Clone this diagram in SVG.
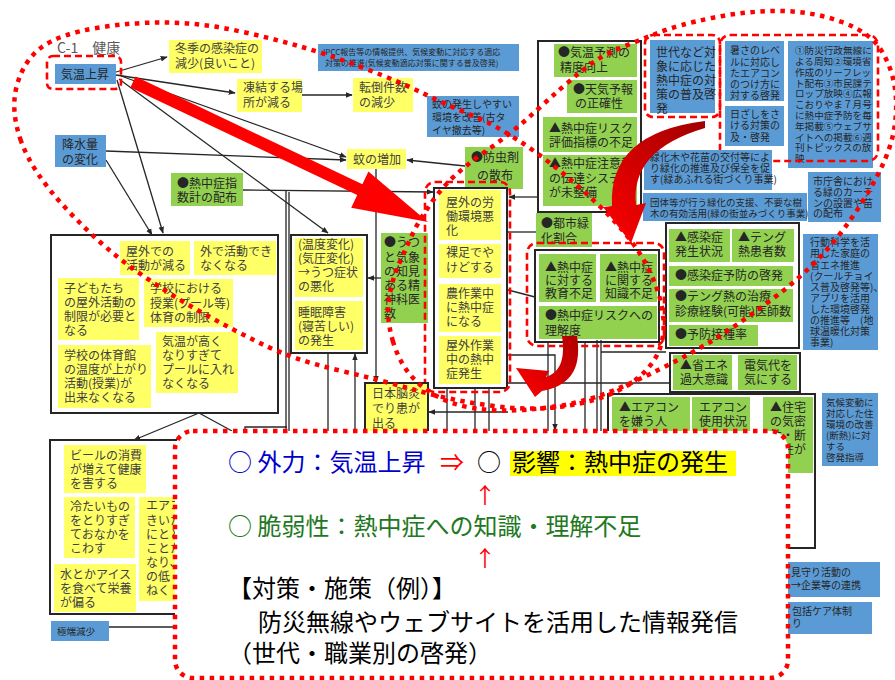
<svg xmlns="http://www.w3.org/2000/svg" width="895" height="680" viewBox="0 0 895 680">
<defs>
<style>
.t{font-family:"Noto Sans CJK JP","Noto Sans CJK SC",sans-serif;font-size:12px;fill:#3f3f3f}
.f10{font-size:10px}
.f9{font-size:9.5px}
.f8{font-size:8px}
.dk{fill:#262626}
.bl{fill:#5B9BD5}
.ye{fill:#FFFF66}
.gr{fill:#92D050}
.fr{fill:none;stroke:#262626;stroke-width:2}
.rda{fill:none;stroke:#FF0000;stroke-width:2.6;stroke-dasharray:7 4}
.rdo{fill:none;stroke:#FF0000;stroke-width:4.5;stroke-dasharray:4.5 5.5}
.ln{fill:none;stroke:#262626;stroke-width:1.3}
.ar{marker-end:url(#ah)}
.big{font-family:"Noto Sans CJK JP","Noto Sans CJK SC",sans-serif;font-size:24px}
</style>
<marker id="ah" viewBox="0 0 10 10" refX="9" refY="5" markerWidth="7" markerHeight="7" markerUnits="userSpaceOnUse" orient="auto"><path d="M0,1 L10,5 L0,9 z" fill="#262626"/></marker>
<linearGradient id="gB" x1="1" y1="0" x2="0" y2="1"><stop offset="0" stop-color="#A00000"/><stop offset="1" stop-color="#FF0000"/></linearGradient>
<linearGradient id="gC" x1="1" y1="0" x2="0" y2="1"><stop offset="0" stop-color="#B00000"/><stop offset="1" stop-color="#FF0000"/></linearGradient>
</defs>
<rect width="895" height="680" fill="#fff"/>

<g id="connectors">
<path class="ln ar" d="M116,72 L167,57"/>
<path class="ln ar" d="M116,75 L235,93"/>
<path class="ln ar" d="M301,95 L352,95"/>
<path class="ln ar" d="M117,80 L163,233"/>
<path class="ln ar" d="M106,160 L152,235"/>
<path class="ln ar" d="M119,79 L328,233"/>
<path class="ln ar" d="M121,76 L346,157"/>
<path class="ln ar" d="M106,151 L346,160"/>
<path class="ln ar" d="M465,166 L407,160"/>
<path class="ln ar" d="M376,169 L376,382"/>
<path class="ln ar" d="M243,190 L433,192"/>
<path class="ln" d="M286,190 L286,431 M289,192 L289,431"/>
<path class="ln ar" d="M381,278 L368,278"/>
<path class="ln ar" d="M355,431 L355,354"/>
<path class="ln" d="M328,353 L328,431"/>
<path class="ln ar" d="M538,197 L509,197"/>
<path class="ln" d="M536,232 L508,232"/>
<path class="ln" d="M535,297 L508,290"/>
<path class="ln ar" d="M508,412 L429,412"/>
<path class="ln ar" d="M508,355 L555,355 L555,430"/>
<path class="ln" d="M447,388 V431 M475,388 V431 M489,388 V431 M508,383 H670 M548,342 V431 M585,342 V431 M597,340 V431 M601,340 V431 M601,352 H666"/>
<path class="ln ar" d="M199,413 L134,440"/>
<path class="ln" d="M199,413 L232,431 M245,431 V427 H287"/>
<path class="ln" d="M109,627 H175"/>
</g>

<g id="title"><text class="t" x="57" y="53" style="font-size:14px;fill:#595959">C-1　健康</text></g>

<g id="n_kion"><rect class="bl" x="55" y="64" width="61" height="20"/><text class="t dk" x="61" y="79">気温上昇</text><rect class="rda" x="47" y="56" width="74" height="33" rx="6"/></g>
<g id="n_fuyu"><rect class="ye" x="169" y="40" width="93" height="33"/><text class="t"><tspan x="175" y="53">冬季の感染症の</tspan><tspan x="175" y="68">減少(良いこと)</tspan></text></g>
<g id="n_touketsu"><rect class="ye" x="237" y="79" width="65" height="33"/><text class="t"><tspan x="243" y="92">凍結する場</tspan><tspan x="243" y="107">所が減る</tspan></text></g>
<g id="n_tentou"><rect class="ye" x="353" y="78" width="60" height="34"/><text class="t"><tspan x="359" y="92">転倒件数</tspan><tspan x="359" y="107">の減少</tspan></text></g>
<g id="n_ipcc"><rect class="bl" x="318" y="44" width="201" height="27"/><text class="t f8 dk"><tspan x="323" y="55">IPCC報告等の情報提供、気候変動に対応する適応</tspan><tspan x="325" y="66">対策の推進(気候変動適応対策に関する普及啓発)</tspan></text></g>
<g id="n_kaenv"><rect class="bl" x="427" y="96" width="92" height="41"/><text class="t f10 dk"><tspan x="432" y="108">蚊の発生しやすい</tspan><tspan x="432" y="121">環境を改善(古タ</tspan><tspan x="432" y="134">イヤ撤去等)</tspan></text></g>
<g id="n_ka"><rect class="ye" x="347" y="149" width="59" height="20"/><text class="t" x="353" y="164">蚊の増加</text></g>
<g id="n_bochu"><rect class="gr" x="465" y="147" width="58" height="42"/><text class="t dk"><tspan x="471" y="162">●防虫剤</tspan><tspan x="477" y="180">の散布</tspan></text></g>
<g id="n_kousui"><rect class="bl" x="55" y="135" width="51" height="32"/><text class="t dk"><tspan x="62" y="149">降水量</tspan><tspan x="62" y="164">の変化</tspan></text></g>
<g id="n_shisuu"><rect class="gr" x="171" y="173" width="72" height="33"/><text class="t dk"><tspan x="177" y="188">●熱中症指</tspan><tspan x="177" y="202">数計の配布</tspan></text></g>

<g id="g_outdoor_child">
<rect class="fr" x="51" y="235" width="227" height="178"/>
<rect class="ye" x="120" y="241" width="70" height="34"/><text class="t"><tspan x="126" y="256">屋外での</tspan><tspan x="126" y="270">活動が減る</tspan></text>
<rect class="ye" x="194" y="241" width="82" height="34"/><text class="t"><tspan x="200" y="256">外で活動でき</tspan><tspan x="200" y="270">なくなる</tspan></text>
<rect class="ye" x="58" y="278" width="81" height="62"/><text class="t"><tspan x="64" y="293">子どもたち</tspan><tspan x="64" y="307">の屋外活動の</tspan><tspan x="64" y="321">制限が必要と</tspan><tspan x="64" y="335">なる</tspan></text>
<rect class="ye" x="144" y="279" width="89" height="48"/><text class="t"><tspan x="150" y="293">学校における</tspan><tspan x="150" y="308">授業(プール等)</tspan><tspan x="150" y="322">体育の制限</tspan></text>
<rect class="ye" x="58" y="345" width="93" height="63"/><text class="t"><tspan x="64" y="360">学校の体育館</tspan><tspan x="64" y="374">の温度が上がり</tspan><tspan x="64" y="388">活動(授業)が</tspan><tspan x="64" y="402">出来なくなる</tspan></text>
<rect class="ye" x="156" y="332" width="82" height="61"/><text class="t"><tspan x="162" y="346">気温が高く</tspan><tspan x="162" y="360">なりすぎて</tspan><tspan x="162" y="374">プールに入れ</tspan><tspan x="162" y="388">なくなる</tspan></text>
</g>

<g id="g_mental">
<rect class="fr" x="291" y="235" width="76" height="118"/>
<rect class="ye" x="295" y="238" width="68" height="59"/><text class="t"><tspan x="298" y="249">(温度変化)</tspan><tspan x="298" y="263">(気圧変化)</tspan><tspan x="298" y="277">→うつ症状</tspan><tspan x="298" y="291">の悪化</tspan></text>
<rect class="ye" x="295" y="301" width="68" height="49"/><text class="t"><tspan x="298" y="317">睡眠障害</tspan><tspan x="298" y="331">(寝苦しい)</tspan><tspan x="298" y="345">の発生</tspan></text>
</g>
<g id="n_utsu"><rect class="gr" x="381" y="233" width="47" height="90"/><text class="t dk"><tspan x="384" y="247">●うつ</tspan><tspan x="384" y="262">と気象</tspan><tspan x="384" y="276">の知見</tspan><tspan x="384" y="290">ある精</tspan><tspan x="384" y="304">神科医</tspan><tspan x="384" y="318">数</tspan></text></g>

<g id="g_work">
<rect class="fr" x="434" y="188" width="73" height="200"/>
<rect class="ye" x="439" y="190" width="62" height="50"/><text class="t"><tspan x="446" y="207">屋外の労</tspan><tspan x="446" y="221">働環境悪</tspan><tspan x="446" y="235">化</tspan></text>
<rect class="ye" x="439" y="244" width="62" height="34"/><text class="t"><tspan x="446" y="257">裸足でや</tspan><tspan x="446" y="272">けどする</tspan></text>
<rect class="ye" x="439" y="284" width="62" height="48"/><text class="t"><tspan x="446" y="298">農作業中</tspan><tspan x="446" y="312">に熱中症</tspan><tspan x="446" y="326">になる</tspan></text>
<rect class="ye" x="439" y="336" width="62" height="48"/><text class="t"><tspan x="446" y="350">屋外作業</tspan><tspan x="446" y="364">中の熱中</tspan><tspan x="446" y="378">症発生</tspan></text>
<rect class="rda" x="425" y="182" width="85" height="210" rx="10"/>
</g>

<g id="n_toshi"><rect class="gr" x="536" y="213" width="56" height="34"/><text class="t dk"><tspan x="541" y="228">●都市緑</tspan><tspan x="541" y="243">化割合</tspan></text></g>

<g id="g_forecast">
<rect class="fr" x="538" y="41" width="103" height="171"/>
<rect class="gr" x="554" y="44" width="83" height="33"/><text class="t dk"><tspan x="558" y="57">●気温予測の</tspan><tspan x="560" y="72">精度向上</tspan></text>
<rect class="gr" x="567" y="80" width="70" height="33"/><text class="t dk"><tspan x="573" y="94">●天気予報</tspan><tspan x="575" y="108">の正確性</tspan></text>
<rect class="gr" x="543" y="117" width="94" height="35"/><text class="t dk"><tspan x="549" y="133">▲熱中症リスク</tspan><tspan x="549" y="147">評価指標の不足</tspan></text>
<rect class="gr" x="543" y="155" width="94" height="51"/><text class="t dk"><tspan x="549" y="168">▲熱中症注意報</tspan><tspan x="549" y="183">の伝達システム</tspan><tspan x="549" y="197">が未整備</tspan></text>
</g>

<g id="n_sedai"><rect class="bl" x="650" y="40" width="65" height="73"/><text class="t dk"><tspan x="656" y="57">世代など対</tspan><tspan x="656" y="71">象に応じた</tspan><tspan x="656" y="85">熱中症の対</tspan><tspan x="656" y="99">策の普及啓</tspan><tspan x="656" y="113">発</tspan></text><rect class="rda" x="645" y="35" width="75" height="82" rx="8"/></g>
<g id="g_info">
<rect class="bl" x="725" y="41" width="59" height="60"/><text class="t f10 dk"><tspan x="730" y="54">暑さのレベ</tspan><tspan x="730" y="66">ルに対応し</tspan><tspan x="730" y="77">たエアコン</tspan><tspan x="730" y="88">のつけ方に</tspan><tspan x="730" y="99">対する啓発</tspan></text>
<rect class="bl" x="725" y="106" width="59" height="40"/><text class="t f10 dk"><tspan x="730" y="118">日ざしをさ</tspan><tspan x="730" y="129">ける対策の</tspan><tspan x="730" y="141">及・啓発</tspan></text>
<rect class="bl" x="788" y="41" width="85" height="127"/><text class="t dk" style="font-size:9.6px"><tspan x="795" y="54">①防災行政無線に</tspan><tspan x="795" y="65">よる周知②環境省</tspan><tspan x="795" y="76">作成のリーフレッ</tspan><tspan x="795" y="87">ト配布③市民課テ</tspan><tspan x="795" y="97">ロップ放映④広報</tspan><tspan x="795" y="108">こおりやま７月号</tspan><tspan x="795" y="119">に熱中症予防を毎</tspan><tspan x="795" y="130">年掲載⑤ウェブサ</tspan><tspan x="795" y="141">イトへの掲載⑥週</tspan><tspan x="795" y="151">刊トピックスの放</tspan><tspan x="795" y="162">映</tspan></text>
<rect class="rda" x="720" y="35" width="158" height="126" rx="10"/>
</g>
<g id="n_ryokka"><rect class="bl" x="644" y="150" width="128" height="40"/><text class="t f10 dk"><tspan x="650" y="161">緑化木や花苗の交付等によ</tspan><tspan x="650" y="172">り緑化の推進及び保全を促</tspan><tspan x="650" y="183">す(緑あふれる街づくり事業)</tspan></text></g>
<g id="n_dantai"><rect class="bl" x="643" y="193" width="164" height="28"/><text class="t f9 dk"><tspan x="650" y="206">団体等が行う緑化の支援、不要な樹</tspan><tspan x="650" y="217">木の有効活用(緑の街並みづくり事業)</tspan></text></g>
<g id="n_chosha"><rect class="bl" x="808" y="172" width="73" height="50"/><text class="t f10 dk"><tspan x="813" y="185">市庁舎におけ</tspan><tspan x="813" y="196">る緑のカーテ</tspan><tspan x="813" y="207">ンの設置や苗</tspan><tspan x="813" y="217">の配布</tspan></text></g>
<g id="n_koudou"><rect class="bl" x="803" y="234" width="75" height="116"/><text class="t f10 dk"><tspan x="810" y="246">行動科学を活</tspan><tspan x="810" y="257">用した家庭の</tspan><tspan x="810" y="269">省エネ推進</tspan><tspan x="810" y="280">(クールチョイ</tspan><tspan x="810" y="291">ス普及啓発等)、</tspan><tspan x="810" y="302">アプリを活用</tspan><tspan x="810" y="313">した環境啓発</tspan><tspan x="810" y="324">の推進等　(地</tspan><tspan x="810" y="335">球温暖化対策</tspan><tspan x="810" y="346">事業)</tspan></text></g>

<g id="g_infect">
<rect class="fr" x="666" y="223" width="133" height="125"/>
<rect class="gr" x="669" y="229" width="61" height="33"/><text class="t dk"><tspan x="675" y="242">▲感染症</tspan><tspan x="675" y="256">発生状況</tspan></text>
<rect class="gr" x="732" y="229" width="62" height="33"/><text class="t dk"><tspan x="738" y="242">▲テング</tspan><tspan x="738" y="256">熱患者数</tspan></text>
<rect class="gr" x="669" y="266" width="124" height="20"/><text class="t dk" x="675" y="280">●感染症予防の啓発</text>
<rect class="gr" x="669" y="289" width="124" height="33"/><text class="t dk"><tspan x="675" y="301">●テング熱の治療・</tspan><tspan x="675" y="316">診療経験(可能)医師数</tspan></text>
<rect class="gr" x="669" y="325" width="89" height="21"/><text class="t dk" x="675" y="339">●予防接種率</text>
</g>

<g id="g_edu">
<rect class="fr" x="535" y="250" width="124" height="92"/>
<rect class="gr" x="539" y="254" width="57" height="48"/><text class="t dk"><tspan x="545" y="272">▲熱中症</tspan><tspan x="545" y="285">に対する</tspan><tspan x="545" y="298">教育不足</tspan></text>
<rect class="gr" x="600" y="254" width="57" height="48"/><text class="t dk"><tspan x="605" y="272">▲熱中症</tspan><tspan x="605" y="285">に関する</tspan><tspan x="605" y="298">知識不足</tspan></text>
<rect class="gr" x="539" y="306" width="118" height="33"/><text class="t dk"><tspan x="545" y="320">●熱中症リスクへの</tspan><tspan x="545" y="335">理解度</tspan></text>
<rect class="rda" x="527" y="243" width="137" height="103" rx="10"/>
</g>

<g id="g_energy">
<rect class="fr" x="670" y="353" width="130" height="39"/>
<rect class="gr" x="673" y="355" width="59" height="35"/><text class="t dk"><tspan x="680" y="370">▲省エネ</tspan><tspan x="680" y="384">過大意識</tspan></text>
<rect class="gr" x="738" y="355" width="59" height="35"/><text class="t dk"><tspan x="744" y="370">電気代を</tspan><tspan x="744" y="384">気にする</tspan></text>
</g>
<g id="g_aircon">
<rect class="fr" x="608" y="394" width="207" height="154"/>
<rect class="gr" x="612" y="397" width="78" height="40"/><text class="t dk"><tspan x="619" y="412">▲エアコン</tspan><tspan x="619" y="426">を嫌う人</tspan></text>
<rect class="gr" x="692" y="397" width="58" height="35"/><text class="t dk"><tspan x="699" y="412">エアコン</tspan><tspan x="699" y="426">使用状況</tspan></text>
<rect class="gr" x="763" y="397" width="50" height="76"/><text class="t dk"><tspan x="770" y="412">▲住宅</tspan><tspan x="770" y="426">の気密</tspan><tspan x="770" y="440">性・断</tspan><tspan x="770" y="454">熱性が</tspan></text>
</g>
<g id="n_kikou"><rect class="bl" x="822" y="393" width="56" height="73"/><text class="t f9 dk"><tspan x="826" y="406">気候変動に</tspan><tspan x="826" y="417">対応した住</tspan><tspan x="826" y="428">環境の改善</tspan><tspan x="826" y="439">(断熱)に対</tspan><tspan x="826" y="450">する</tspan><tspan x="826" y="461">啓発指導</tspan></text></g>

<g id="n_nouen"><rect class="ye" x="365" y="383" width="63" height="50" stroke="#262626" stroke-width="2"/><text class="t"><tspan x="372" y="398">日本脳炎</tspan><tspan x="372" y="413">でり患が</tspan><tspan x="372" y="428">出る</tspan></text></g>

<g id="g_food">
<rect class="fr" x="50" y="440" width="200" height="174"/>
<rect class="ye" x="64" y="445" width="82" height="48"/><text class="t"><tspan x="70" y="460">ビールの消費</tspan><tspan x="70" y="474">が増えて健康</tspan><tspan x="70" y="488">を害する</tspan></text>
<rect class="ye" x="64" y="497" width="71" height="61"/><text class="t"><tspan x="70" y="511">冷たいもの</tspan><tspan x="70" y="525">をとりすぎ</tspan><tspan x="70" y="539">ておなかを</tspan><tspan x="70" y="553">こわす</tspan></text>
<rect class="ye" x="139" y="497" width="60" height="104"/><text class="t"><tspan x="146" y="510">エアコ</tspan><tspan x="146" y="525">きいた</tspan><tspan x="146" y="539">にとど</tspan><tspan x="146" y="553">ことた</tspan><tspan x="146" y="567">なり、</tspan><tspan x="146" y="581">の低</tspan><tspan x="146" y="595">ねく</tspan></text>
<rect class="ye" x="54" y="564" width="82" height="48"/><text class="t"><tspan x="60" y="579">水とかアイス</tspan><tspan x="60" y="593">を食べて栄養</tspan><tspan x="60" y="607">が偏る</tspan></text>
</g>
<g id="n_kyokutan"><rect class="bl" x="51" y="621" width="58" height="20"/><text class="t f9 dk" x="57" y="635">極端減少</text></g>
<g id="n_mimamori"><rect class="bl" x="780" y="562" width="100" height="35"/><text class="t f10 dk"><tspan x="791" y="576">見守り活動の</tspan><tspan x="791" y="589">→企業等の連携</tspan></text></g>
<g id="n_houkatsu"><rect class="bl" x="780" y="602" width="92" height="32"/><text class="t f10 dk"><tspan x="792" y="615">包括ケア体制</tspan><tspan x="792" y="627">り</tspan></text></g>

<g id="red_arrows">
<polygon points="135.6,76.6 362.4,184.2 368.4,171.5 428,222 351.2,207.7 357.2,195 130.4,87.4" fill="#FF0000"/>
<path d="M705,121 Q608,133 612,206 L603,207 L631,243 L646,203 L636,205 Q630,150 705,128 Z" fill="url(#gB)"/>
<path d="M562,336 L577,336 C581,362 576,385 542,391 L535,397 L516,368 L549,371 L546,377 C562,372 565,356 562,336 Z" fill="url(#gC)"/>
</g>

<g id="dotted_outlines">
<path class="rdo" d="M21,141 Q10,110 17,85 Q24,60 42,47 Q60,34 96.5,28 Q133,22 166.5,22.5 Q200,23 233.5,30 Q267,37 298.5,46 Q330,55 365,68.5 Q400,82 423.5,93.5 Q447,105 473.5,116 Q500,127 532.5,150 Q565,173 598.5,205 Q632,237 647,266 Q662,295 663.5,320 Q665,345 652.5,362.5 Q640,380 617.5,391 Q595,402 562.5,406.5 Q530,411 490,405.5 Q450,400 415,390 Q380,380 337.5,370 Q295,360 264,345 Q233,330 200,311.5 Q167,293 133.5,269 Q100,245 66,208.5 Q32,172 21,141 Z"/>
<path class="rdo" d="M393,341.5 Q386,318 389,299 Q392,280 398.5,265 Q405,250 412.5,234 Q420,218 436,196.5 Q452,175 482,154 Q512,133 537,110 Q562,87 581,71.5 Q600,56 620,48 Q640,40 659,32.5 Q678,25 711.5,18 Q745,11 778.5,11 Q812,11 842,22 Q872,33 883.5,54 Q895,75 896,100 Q897,125 889.5,147.5 Q882,170 863.5,200 Q845,230 823.5,253.5 Q802,277 768.5,302 Q735,327 707.5,343.5 Q680,360 637.5,380 Q595,400 561.5,405.5 Q528,411 500,410.5 Q472,410 451,402.5 Q430,395 415,380 Q400,365 393,341.5 Z"/>
</g>

<g id="summary">
<rect x="175" y="431" width="613" height="247" rx="18" fill="#fff"/>
<rect class="rdo" x="175" y="431" width="613" height="247" rx="18"/>
<text class="big" x="228" y="471" fill="#0000CC">○ 外力：気温上昇</text>
<text class="big" x="440" y="471" fill="#FF0000">⇒</text>
<text class="big" x="477" y="471" fill="#000">○</text>
<rect x="510" y="451" width="226" height="25" fill="#FFFF00"/>
<text class="big" x="512" y="471" fill="#000">影響：熱中症の発生</text>
<text class="big" x="485" y="503" fill="#FF0000" text-anchor="middle" style="font-size:22px">↑</text>
<text class="big" x="228" y="535" fill="#217821">○ 脆弱性：熱中症への知識・理解不足</text>
<text class="big" x="485" y="566" fill="#FF0000" text-anchor="middle" style="font-size:22px">↑</text>
<text class="big" x="228" y="597" fill="#000">【対策・施策（例）】</text>
<text class="big" x="258" y="631" fill="#000">防災無線やウェブサイトを活用した情報発信</text>
<text class="big" x="228" y="662" fill="#000">（世代・職業別の啓発）</text>
</g>
</svg>
